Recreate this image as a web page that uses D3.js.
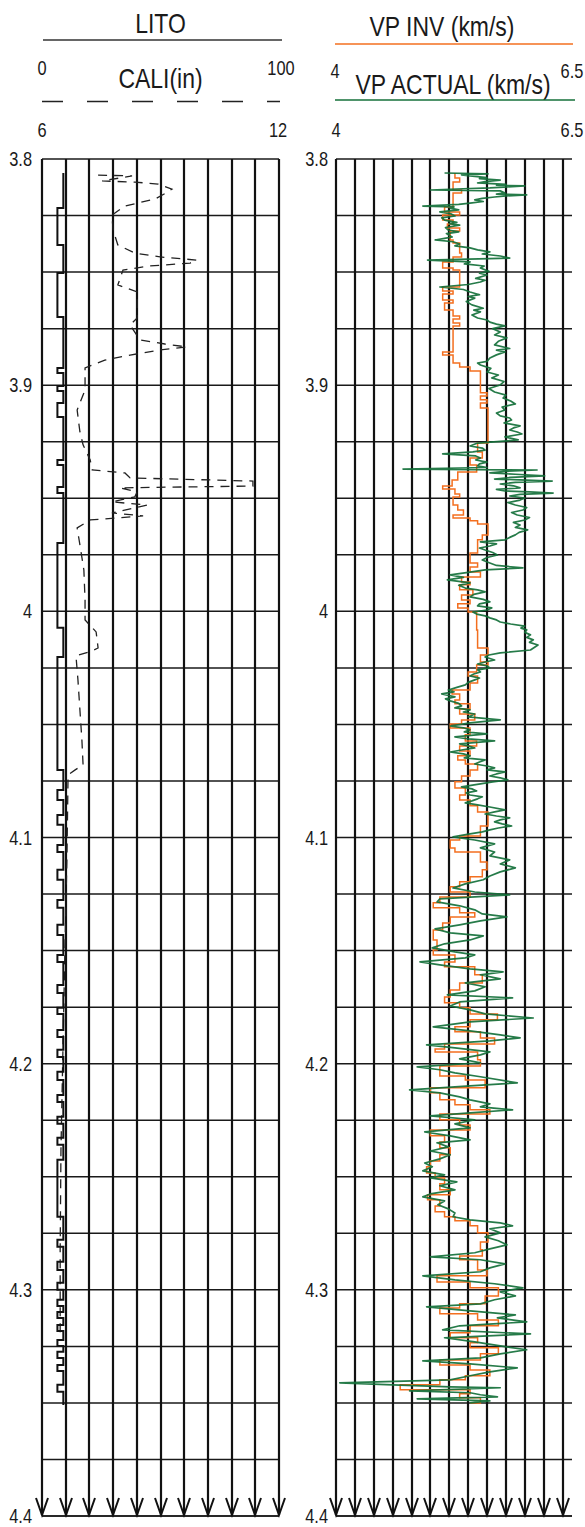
<!DOCTYPE html>
<html>
<head>
<meta charset="utf-8">
<script src="https://cdn.jsdelivr.net/npm/d3@7"></script>
<style>
  body { margin: 0; background: #fff; }
  svg { display: block; }
  text { font-family: "Liberation Sans", Arial, sans-serif; fill: #1a1a1a; }
</style>
</head>
<body>
<svg id="chart" width="585" height="1527"></svg>
<script>
// ---- depth axis ----
const depthDomain = [3.8, 4.4];
const depthLabels = [3.8, 3.9, 4.0, 4.1, 4.2, 4.3, 4.4];

// ---- track scales ----
const litoDomain = [0, 100];
const caliDomain = [6, 12];
const vpDomain = [4, 6.5];
const litoTickLabels = ["0", "100"];
const caliTickLabels = ["6", "12"];
const vpTickLabels = ["4", "6.5"];

// ---- curve names ----
const leftTitles = ["LITO", "CALI(in)"];
const rightTitles = ["VP INV (km/s)", "VP ACTUAL (km/s)"];

// LITO: [bed top depth, value], drawn as a step log
const lito = [
  [3.8062, 9], [3.8217, 6.5], [3.8380, 9], [3.8504, 6.5], [3.8699, 9],
  [3.8924, 6.5], [3.8946, 9], [3.9004, 6.5], [3.9026, 9], [3.9079, 6.5], [3.9141, 9],
  [3.9331, 6.5], [3.9353, 9], [3.9450, 6.5], [3.9477, 9],
  [3.9698, 6.5], [4.0073, 9], [4.0202, 6.5], [4.0701, 9],
  [4.0790, 6.5], [4.0834, 9], [4.0900, 6.5], [4.0944, 9], [4.1033, 6.5], [4.1064, 9],
  [4.1143, 6.5], [4.1187, 9], [4.1276, 6.5], [4.1311, 9], [4.1386, 6.5], [4.1431, 9],
  [4.1519, 6.5], [4.1550, 9], [4.1652, 6.5], [4.1687, 9], [4.1753, 6.5], [4.1780, 9],
  [4.1851, 6.5], [4.1882, 9], [4.1939, 6.5], [4.1970, 9], [4.2036, 6.5], [4.2072, 9],
  [4.2138, 6.5], [4.2169, 9], [4.2235, 6.5], [4.2266, 9], [4.2328, 6.5], [4.2359, 9],
  [4.2425, 6.5], [4.2677, 9], [4.2779, 6.5], [4.2810, 9], [4.2876, 6.5], [4.2912, 9],
  [4.2969, 6.5], [4.3000, 9], [4.3044, 6.5], [4.3071, 9], [4.3098, 6.5], [4.3124, 9],
  [4.3155, 6.5], [4.3182, 9], [4.3222, 6.5], [4.3248, 9], [4.3274, 6.5], [4.3301, 9],
  [4.3332, 6.5], [4.3359, 9], [4.3420, 6.5], [4.3451, 9], [4.3509, 9]
];

// CALI (in): [depth, caliper]
const cali = [
  [3.8071, 7.42], [3.8075, 8.28], [3.8097, 7.52], [3.8102, 8.35], [3.8111, 8.94],
  [3.8133, 9.29], [3.8150, 9.14], [3.8177, 8.86], [3.8208, 8.10], [3.8248, 7.77],
  [3.8314, 7.80], [3.8380, 7.92], [3.8416, 8.35], [3.8433, 8.99], [3.8447, 9.92],
  [3.8460, 9.75], [3.8473, 8.73], [3.8491, 8.05], [3.8557, 7.92], [3.8588, 8.41],
  [3.8703, 8.41], [3.8734, 8.23], [3.8800, 8.48], [3.8818, 9.11], [3.8831, 9.67],
  [3.8844, 8.99], [3.8867, 8.23], [3.8889, 7.59], [3.8924, 7.09], [3.9021, 7.09],
  [3.9110, 6.89], [3.9207, 6.96], [3.9264, 7.04], [3.9331, 7.22], [3.9375, 7.27],
  [3.9388, 8.10], [3.9410, 8.23], [3.9424, 11.34], [3.9446, 11.34], [3.9454, 7.97],
  [3.9472, 8.41], [3.9494, 8.35], [3.9516, 7.77], [3.9530, 8.66], [3.9565, 7.77],
  [3.9578, 8.56], [3.9596, 7.22], [3.9631, 6.89], [3.9706, 6.96], [3.9817, 7.06],
  [3.9950, 7.09], [4.0038, 7.09], [4.0091, 7.37], [4.0162, 7.42], [4.0175, 7.27],
  [4.0197, 6.86], [4.0303, 6.91], [4.0436, 6.96], [4.0569, 7.01], [4.0679, 7.04],
  [4.0701, 6.84], [4.0723, 6.66], [4.1099, 6.63], [4.1497, 6.58], [4.1939, 6.53],
  [4.2381, 6.48], [4.2823, 6.46], [4.3199, 6.46]
];

// VP INV (km/s): [depth, velocity], blocky inversion result
const vpInv = [
  [3.8062, 5.26], [3.8084, 5.31], [3.8102, 5.24], [3.8137, 5.33], [3.8150, 5.24],
  [3.8212, 5.15], [3.8234, 5.31], [3.8248, 5.13], [3.8270, 5.24], [3.8287, 5.18],
  [3.8305, 5.31], [3.8318, 5.21], [3.8358, 5.24], [3.8371, 5.31], [3.8416, 5.33],
  [3.8433, 5.24], [3.8455, 5.13], [3.8482, 5.24], [3.8491, 5.31], [3.8566, 5.13],
  [3.8584, 5.24], [3.8597, 5.13], [3.8623, 5.24], [3.8637, 5.15], [3.8668, 5.24],
  [3.8694, 5.31], [3.8707, 5.24], [3.8725, 5.31], [3.8738, 5.24], [3.8853, 5.13],
  [3.8867, 5.24], [3.8902, 5.31], [3.8920, 5.42], [3.8937, 5.53], [3.9034, 5.60],
  [3.9048, 5.53], [3.9065, 5.60], [3.9079, 5.53], [3.9101, 5.61], [3.9256, 5.50],
  [3.9295, 5.55], [3.9322, 5.42], [3.9353, 5.49], [3.9384, 5.29], [3.9419, 5.23],
  [3.9446, 5.13], [3.9459, 5.26], [3.9481, 5.31], [3.9494, 5.24], [3.9530, 5.29],
  [3.9552, 5.35], [3.9574, 5.24], [3.9587, 5.42], [3.9600, 5.50], [3.9614, 5.61],
  [3.9662, 5.55], [3.9684, 5.50], [3.9742, 5.42], [3.9786, 5.50], [3.9804, 5.42],
  [3.9826, 5.53], [3.9848, 5.33], [3.9870, 5.42], [3.9883, 5.31], [3.9905, 5.45],
  [3.9928, 5.33], [3.9950, 5.42], [3.9967, 5.29], [3.9985, 5.40], [4.0003, 5.49],
  [4.0082, 5.50], [4.0162, 5.61], [4.0193, 5.53], [4.0224, 5.61], [4.0237, 5.49],
  [4.0268, 5.40], [4.0286, 5.50], [4.0317, 5.42], [4.0348, 5.23], [4.0365, 5.31],
  [4.0392, 5.26], [4.0409, 5.42], [4.0432, 5.31], [4.0454, 5.47], [4.0480, 5.33],
  [4.0498, 5.21], [4.0516, 5.42], [4.0546, 5.37], [4.0573, 5.49], [4.0595, 5.31],
  [4.0617, 5.42], [4.0639, 5.29], [4.0657, 5.37], [4.0675, 5.50], [4.0701, 5.42],
  [4.0728, 5.33], [4.0754, 5.26], [4.0781, 5.37], [4.0812, 5.31], [4.0834, 5.42],
  [4.0860, 5.50], [4.0887, 5.61], [4.0949, 5.53], [4.0993, 5.31], [4.1011, 5.21],
  [4.1046, 5.26], [4.1064, 5.53], [4.1108, 5.60], [4.1143, 5.55], [4.1174, 5.42],
  [4.1196, 5.31], [4.1218, 5.21], [4.1241, 5.42], [4.1263, 5.10], [4.1289, 5.03],
  [4.1311, 5.31], [4.1333, 5.47], [4.1351, 5.21], [4.1378, 5.13], [4.1409, 5.03],
  [4.1453, 5.07], [4.1497, 5.03], [4.1519, 5.26], [4.1550, 5.15], [4.1572, 5.47],
  [4.1607, 5.55], [4.1643, 5.31], [4.1674, 5.21], [4.1705, 5.15], [4.1731, 5.31],
  [4.1753, 5.42], [4.1780, 5.71], [4.1806, 5.42], [4.1837, 5.26], [4.1859, 5.53],
  [4.1886, 5.68], [4.1913, 5.15], [4.1935, 5.05], [4.1948, 5.50], [4.1983, 5.53],
  [4.2010, 5.10], [4.2054, 5.37], [4.2072, 5.58], [4.2107, 5.00], [4.2129, 5.10],
  [4.2160, 5.26], [4.2182, 5.42], [4.2204, 5.63], [4.2222, 5.10], [4.2248, 5.31],
  [4.2271, 5.42], [4.2293, 5.00], [4.2319, 5.15], [4.2346, 5.10], [4.2372, 5.21],
  [4.2403, 5.10], [4.2430, 5.00], [4.2456, 4.96], [4.2483, 5.05], [4.2505, 5.15],
  [4.2531, 5.10], [4.2558, 5.21], [4.2580, 4.97], [4.2602, 5.10], [4.2629, 5.05],
  [4.2655, 5.15], [4.2677, 5.26], [4.2695, 5.42], [4.2717, 5.50], [4.2748, 5.61],
  [4.2788, 5.53], [4.2823, 5.55], [4.2850, 5.31], [4.2867, 5.50], [4.2912, 5.60],
  [4.2938, 5.07], [4.2965, 5.42], [4.2991, 5.72], [4.3027, 5.58], [4.3062, 5.31],
  [4.3080, 5.10], [4.3106, 5.50], [4.3133, 5.72], [4.3159, 5.42], [4.3190, 5.21],
  [4.3212, 5.50], [4.3234, 5.42], [4.3256, 5.72], [4.3283, 5.53], [4.3310, 5.10],
  [4.3332, 5.42], [4.3354, 5.63], [4.3380, 5.37], [4.3398, 5.10], [4.3420, 4.68],
  [4.3442, 5.42], [4.3460, 5.31], [4.3477, 5.53], [4.3500, 5.42]
];

// VP ACTUAL (km/s): [depth, velocity], measured log
const vpActual = [
  [3.8062, 5.15], [3.8066, 5.61], [3.8070, 5.33], [3.8075, 5.42], [3.8082, 5.60],
  [3.8087, 5.52], [3.8093, 5.74], [3.8100, 5.58], [3.8106, 5.50], [3.8112, 5.80],
  [3.8116, 5.70], [3.8119, 6.00], [3.8124, 5.78], [3.8128, 5.63], [3.8137, 5.00],
  [3.8141, 5.74], [3.8150, 5.79], [3.8155, 5.70], [3.8159, 6.02], [3.8163, 5.80],
  [3.8168, 5.68], [3.8174, 5.55], [3.8181, 5.47], [3.8188, 5.56], [3.8195, 5.42],
  [3.8201, 5.30], [3.8208, 4.92], [3.8212, 5.25], [3.8217, 5.21], [3.8225, 5.30],
  [3.8234, 5.10], [3.8243, 5.22], [3.8252, 5.26], [3.8260, 5.12], [3.8270, 5.15],
  [3.8280, 5.28], [3.8286, 5.20], [3.8292, 5.31], [3.8303, 5.16], [3.8314, 5.19],
  [3.8322, 5.30], [3.8330, 5.17], [3.8345, 5.23], [3.8351, 5.15], [3.8358, 5.05],
  [3.8366, 5.24], [3.8376, 5.31], [3.8384, 5.26], [3.8393, 5.42], [3.8402, 5.50],
  [3.8411, 5.63], [3.8420, 5.55], [3.8429, 5.74], [3.8438, 5.84], [3.8447, 4.97],
  [3.8455, 5.42], [3.8464, 5.36], [3.8473, 5.57], [3.8482, 5.53], [3.8497, 5.62],
  [3.8505, 5.52], [3.8513, 5.60], [3.8528, 5.48], [3.8536, 5.58], [3.8544, 5.53],
  [3.8555, 5.40], [3.8566, 5.10], [3.8577, 5.35], [3.8588, 5.42], [3.8600, 5.52],
  [3.8608, 5.40], [3.8615, 5.47], [3.8630, 5.38], [3.8645, 5.44], [3.8660, 5.56],
  [3.8668, 5.46], [3.8676, 5.53], [3.8690, 5.44], [3.8703, 5.50], [3.8712, 5.60],
  [3.8721, 5.63], [3.8730, 5.70], [3.8738, 5.79], [3.8750, 5.66], [3.8765, 5.74],
  [3.8778, 5.68], [3.8791, 5.81], [3.8806, 5.72], [3.8822, 5.68], [3.8838, 5.84],
  [3.8845, 5.70], [3.8853, 5.79], [3.8866, 5.70], [3.8880, 5.63], [3.8895, 5.60],
  [3.8902, 5.50], [3.8911, 5.53], [3.8926, 5.64], [3.8942, 5.60], [3.8955, 5.72],
  [3.8968, 5.65], [3.8984, 5.78], [3.8999, 5.74], [3.9015, 5.62], [3.9030, 5.68],
  [3.9044, 5.80], [3.9057, 5.77], [3.9070, 5.85], [3.9083, 5.90], [3.9097, 5.76],
  [3.9110, 5.79], [3.9123, 5.70], [3.9136, 5.74], [3.9145, 5.84], [3.9154, 5.86],
  [3.9167, 5.78], [3.9180, 5.95], [3.9189, 5.88], [3.9198, 5.84], [3.9207, 5.92],
  [3.9216, 5.97], [3.9229, 5.79], [3.9242, 5.93], [3.9256, 5.50], [3.9269, 5.42],
  [3.9278, 5.55], [3.9287, 5.58], [3.9295, 5.45], [3.9304, 5.13], [3.9313, 5.48],
  [3.9322, 5.53], [3.9331, 5.48], [3.9340, 5.60], [3.9348, 5.52], [3.9357, 5.50],
  [3.9364, 5.60], [3.9371, 4.71], [3.9375, 6.13], [3.9381, 5.80], [3.9388, 5.63],
  [3.9394, 5.90], [3.9401, 6.21], [3.9408, 5.85], [3.9415, 5.68], [3.9419, 5.95],
  [3.9424, 6.29], [3.9430, 5.90], [3.9437, 5.74], [3.9445, 5.88], [3.9454, 5.95],
  [3.9461, 5.70], [3.9468, 5.79], [3.9472, 6.05], [3.9477, 6.30], [3.9483, 5.95],
  [3.9490, 5.84], [3.9499, 6.00], [3.9508, 5.95], [3.9519, 5.82], [3.9530, 5.90],
  [3.9541, 6.02], [3.9552, 5.98], [3.9563, 5.86], [3.9574, 5.92], [3.9585, 6.05],
  [3.9596, 6.00], [3.9607, 5.88], [3.9618, 5.95], [3.9629, 5.90], [3.9640, 6.03],
  [3.9651, 5.94], [3.9662, 5.90], [3.9673, 5.84], [3.9684, 5.79], [3.9693, 5.53],
  [3.9702, 5.70], [3.9711, 5.63], [3.9720, 5.52], [3.9729, 5.58], [3.9740, 5.66],
  [3.9751, 5.71], [3.9762, 5.60], [3.9773, 5.55], [3.9786, 5.63], [3.9797, 5.70],
  [3.9808, 5.98], [3.9817, 5.58], [3.9828, 5.40], [3.9839, 5.21], [3.9850, 5.35],
  [3.9861, 5.18], [3.9874, 5.42], [3.9885, 5.30], [3.9897, 5.37], [3.9905, 5.50],
  [3.9914, 5.58], [3.9925, 5.46], [3.9936, 5.42], [3.9947, 5.56], [3.9958, 5.63],
  [3.9967, 5.52], [3.9976, 5.50], [3.9985, 5.65], [3.9994, 5.60], [4.0003, 5.45],
  [4.0012, 5.49], [4.0020, 5.58], [4.0029, 5.63], [4.0038, 5.70], [4.0047, 5.74],
  [4.0056, 5.85], [4.0065, 6.00], [4.0074, 5.96], [4.0082, 6.02], [4.0093, 6.00],
  [4.0104, 6.06], [4.0115, 6.02], [4.0126, 6.09], [4.0137, 6.05], [4.0149, 6.14],
  [4.0160, 6.10], [4.0171, 6.06], [4.0184, 5.74], [4.0193, 5.62], [4.0202, 5.58],
  [4.0215, 5.68], [4.0224, 5.58], [4.0233, 5.50], [4.0241, 5.60], [4.0250, 5.63],
  [4.0259, 5.50], [4.0268, 5.53], [4.0277, 5.46], [4.0286, 5.42], [4.0295, 5.52],
  [4.0303, 5.47], [4.0314, 5.40], [4.0325, 5.37], [4.0336, 5.28], [4.0348, 5.19],
  [4.0356, 5.25], [4.0365, 5.12], [4.0378, 5.26], [4.0387, 5.16], [4.0396, 5.21],
  [4.0407, 5.30], [4.0418, 5.33], [4.0427, 5.26], [4.0436, 5.42], [4.0445, 5.35],
  [4.0454, 5.47], [4.0467, 5.40], [4.0480, 5.74], [4.0493, 5.42], [4.0507, 5.21],
  [4.0515, 5.35], [4.0524, 5.42], [4.0533, 5.36], [4.0542, 5.60], [4.0555, 5.26],
  [4.0564, 5.40], [4.0573, 5.68], [4.0586, 5.31], [4.0595, 5.40], [4.0604, 5.47],
  [4.0613, 5.33], [4.0622, 5.21], [4.0630, 5.35], [4.0639, 5.42], [4.0648, 5.36],
  [4.0657, 5.58], [4.0666, 5.52], [4.0675, 5.47], [4.0684, 5.60], [4.0692, 5.68],
  [4.0701, 5.60], [4.0710, 5.79], [4.0719, 5.70], [4.0728, 5.63], [4.0736, 5.74],
  [4.0745, 5.82], [4.0754, 5.66], [4.0763, 5.53], [4.0776, 5.33], [4.0785, 5.44],
  [4.0794, 5.49], [4.0803, 5.38], [4.0812, 5.42], [4.0820, 5.55], [4.0829, 5.50],
  [4.0838, 5.44], [4.0847, 5.37], [4.0856, 5.50], [4.0865, 5.63], [4.0878, 5.79],
  [4.0887, 5.68], [4.0896, 5.58], [4.0905, 5.70], [4.0913, 5.84], [4.0922, 5.74],
  [4.0931, 5.68], [4.0940, 5.76], [4.0949, 5.86], [4.0958, 5.72], [4.0966, 5.63],
  [4.0975, 5.55], [4.0984, 5.42], [4.0997, 5.24], [4.1011, 5.47], [4.1028, 5.68],
  [4.1046, 5.53], [4.1064, 5.68], [4.1081, 5.63], [4.1099, 5.84], [4.1117, 5.74],
  [4.1134, 5.90], [4.1152, 5.74], [4.1170, 5.63], [4.1187, 5.56], [4.1205, 5.37],
  [4.1223, 5.24], [4.1241, 5.47], [4.1254, 5.84], [4.1271, 5.10], [4.1285, 5.07],
  [4.1302, 5.31], [4.1320, 5.47], [4.1338, 5.55], [4.1351, 5.81], [4.1369, 5.53],
  [4.1386, 5.31], [4.1404, 5.05], [4.1422, 5.21], [4.1435, 5.56], [4.1453, 5.42],
  [4.1470, 5.15], [4.1488, 5.02], [4.1506, 5.26], [4.1519, 5.47], [4.1532, 5.37],
  [4.1550, 4.89], [4.1563, 5.10], [4.1581, 5.42], [4.1594, 5.77], [4.1607, 5.53],
  [4.1625, 5.74], [4.1643, 5.37], [4.1660, 5.58], [4.1678, 5.47], [4.1696, 5.18],
  [4.1709, 5.87], [4.1727, 5.31], [4.1745, 5.21], [4.1762, 5.42], [4.1780, 5.58],
  [4.1798, 6.09], [4.1815, 5.42], [4.1837, 5.03], [4.1855, 5.42], [4.1873, 5.74],
  [4.1886, 5.95], [4.1899, 5.63], [4.1917, 4.96], [4.1930, 5.26], [4.1948, 5.63],
  [4.1961, 5.53], [4.1979, 5.31], [4.1996, 5.53], [4.2014, 4.86], [4.2027, 5.10],
  [4.2041, 5.26], [4.2058, 5.53], [4.2085, 5.92], [4.2098, 5.42], [4.2116, 4.78],
  [4.2129, 5.10], [4.2147, 5.31], [4.2160, 5.42], [4.2178, 5.63], [4.2191, 5.53],
  [4.2204, 5.87], [4.2218, 5.42], [4.2231, 5.00], [4.2248, 5.47], [4.2266, 5.26],
  [4.2284, 5.42], [4.2302, 4.94], [4.2319, 5.21], [4.2337, 5.42], [4.2350, 5.07],
  [4.2368, 5.19], [4.2386, 5.00], [4.2403, 5.21], [4.2421, 5.10], [4.2439, 4.94],
  [4.2456, 5.02], [4.2474, 4.92], [4.2492, 5.15], [4.2505, 5.00], [4.2523, 5.28],
  [4.2540, 5.10], [4.2558, 5.26], [4.2576, 5.00], [4.2589, 4.92], [4.2607, 5.15],
  [4.2624, 5.08], [4.2642, 5.19], [4.2660, 5.26], [4.2677, 5.24], [4.2691, 5.42],
  [4.2704, 5.74], [4.2717, 5.87], [4.2730, 5.63], [4.2748, 5.74], [4.2766, 5.58],
  [4.2783, 5.72], [4.2801, 5.81], [4.2819, 5.63], [4.2836, 5.47], [4.2854, 5.00],
  [4.2867, 5.53], [4.2885, 5.79], [4.2903, 5.63], [4.2920, 5.53], [4.2938, 4.92],
  [4.2956, 5.26], [4.2973, 5.68], [4.2991, 5.98], [4.3009, 5.74], [4.3027, 5.90],
  [4.3044, 5.68], [4.3062, 5.53], [4.3075, 4.96], [4.3093, 5.42], [4.3111, 5.90],
  [4.3124, 5.71], [4.3142, 6.02], [4.3159, 5.31], [4.3177, 5.13], [4.3195, 6.06],
  [4.3212, 5.15], [4.3230, 5.47], [4.3248, 5.74], [4.3265, 6.02], [4.3283, 5.74],
  [4.3301, 5.53], [4.3314, 4.92], [4.3327, 5.42], [4.3345, 5.92], [4.3363, 5.63],
  [4.3380, 5.42], [4.3398, 5.21], [4.3411, 4.04], [4.3420, 4.60], [4.3429, 5.21],
  [4.3433, 5.74], [4.3447, 4.78], [4.3455, 5.42], [4.3464, 5.53], [4.3473, 5.71],
  [4.3482, 4.86], [4.3491, 5.63], [4.3500, 5.42]
];

// ---- layout ----
const svg = d3.select("#chart");
const plotTop = 159, plotBottom = 1516;
const leftTrack = { x0: 42, x1: 279 };
const rightTrack = { x0: 336, x1: 572 };
const colors = { inv: "#f36f1f", actual: "#14703a", ink: "#111" };

const y = d3.scaleLinear().domain(depthDomain).range([plotTop, plotBottom]);
const xLito = d3.scaleLinear().domain(litoDomain).range([leftTrack.x0, leftTrack.x1]);
const xCali = d3.scaleLinear().domain(caliDomain).range([leftTrack.x0, leftTrack.x1]);
const xVp = d3.scaleLinear().domain(vpDomain).range([rightTrack.x0, rightTrack.x1]);

// condensed text helper (narrow sans look)
function label(g, x, yy, str, size, anchor) {
  return g.append("text")
    .attr("transform", `translate(${x},${yy}) scale(0.82,1)`)
    .attr("text-anchor", anchor)
    .style("font-size", size + "px")
    .text(str);
}

function drawTrack(track, xScale, labelGap) {
  const g = svg.append("g");
  const hLines = d3.range(0, 25).map(i => depthDomain[0] + i * 0.025);
  const vTicks = xScale.ticks(10);
  const vx = d => Math.round(xScale(d));

  // horizontal depth grid
  g.selectAll("line.h").data(hLines).join("line")
    .attr("x1", track.x0).attr("x2", track.x1)
    .attr("y1", d => y(d)).attr("y2", d => y(d))
    .attr("stroke", "#1a1a1a").attr("stroke-width", 1.5);

  // bottom baseline
  g.append("line")
    .attr("x1", track.x0).attr("x2", track.x1)
    .attr("y1", y(depthDomain[1])).attr("y2", y(depthDomain[1]))
    .attr("stroke", "#1a1a1a").attr("stroke-width", 1.5);

  // vertical grid with arrow heads
  g.selectAll("line.v").data(vTicks).join("line")
    .attr("x1", vx).attr("x2", vx)
    .attr("y1", plotTop).attr("y2", plotBottom - 1)
    .attr("stroke", colors.ink).attr("stroke-width", 2.2);
  g.selectAll("path.arrow").data(vTicks).join("path")
    .attr("d", d => {
      const x = vx(d), yb = plotBottom - 1;
      return `M${x - 6},${yb - 17} L${x},${yb} L${x + 6},${yb - 17}`;
    })
    .attr("fill", "none").attr("stroke", colors.ink).attr("stroke-width", 2);

  // depth labels
  depthLabels.forEach(d => {
    label(g, track.x0 - labelGap, y(d) + 7, d3.format("~g")(d), 20, "end");
  });
  return g;
}

drawTrack(leftTrack, xLito, 10);
drawTrack(rightTrack, xVp, 8);

// ---- headers ----
const hdr = svg.append("g");
const lMid = (leftTrack.x0 + leftTrack.x1) / 2;
const rMid = (rightTrack.x0 + rightTrack.x1) / 2;

label(hdr, lMid, 33, leftTitles[0], 28, "middle");
hdr.append("line").attr("x1", leftTrack.x0 + 1).attr("x2", leftTrack.x1 + 3)
  .attr("y1", 40).attr("y2", 40).attr("stroke", "#333").attr("stroke-width", 1.5);
label(hdr, xLito(litoDomain[0]), 75, litoTickLabels[0], 20, "middle");
label(hdr, xLito(litoDomain[1]) + 2, 75, litoTickLabels[1], 20, "middle");

label(hdr, lMid, 88, leftTitles[1], 28, "middle");
hdr.append("line").attr("x1", leftTrack.x0).attr("x2", leftTrack.x1 + 1)
  .attr("y1", 101.5).attr("y2", 101.5).attr("stroke", "#222").attr("stroke-width", 1.5)
  .attr("stroke-dasharray", "21,24");
label(hdr, xCali(caliDomain[0]), 137, caliTickLabels[0], 20, "middle");
label(hdr, xCali(caliDomain[1]) - 1, 137, caliTickLabels[1], 20, "middle");

label(hdr, rMid - 12, 36, rightTitles[0], 28, "middle");
hdr.append("line").attr("x1", rightTrack.x0 - 1).attr("x2", rightTrack.x1 + 1)
  .attr("y1", 44).attr("y2", 44).attr("stroke", colors.inv).attr("stroke-width", 1.5);
label(hdr, xVp(vpDomain[0]) - 1, 78, vpTickLabels[0], 20, "middle");
label(hdr, xVp(vpDomain[1]), 78, vpTickLabels[1], 20, "middle");

label(hdr, rMid - 1, 94, rightTitles[1], 28, "middle");
hdr.append("line").attr("x1", rightTrack.x0 - 1).attr("x2", rightTrack.x1 + 3)
  .attr("y1", 100).attr("y2", 100).attr("stroke", colors.actual).attr("stroke-width", 1.5);
label(hdr, xVp(vpDomain[0]), 137, vpTickLabels[0], 20, "middle");
label(hdr, xVp(vpDomain[1]), 137, vpTickLabels[1], 20, "middle");

// ---- curves ----
const curves = svg.append("g");

curves.append("path").datum(cali)
  .attr("d", d3.line().x(d => xCali(d[1])).y(d => y(d[0])))
  .attr("fill", "none").attr("stroke", "#222").attr("stroke-width", 1.3)
  .attr("stroke-dasharray", "9,7");

curves.append("path").datum(lito)
  .attr("d", d3.line().x(d => xLito(d[1])).y(d => y(d[0])).curve(d3.curveStepBefore))
  .attr("fill", "none").attr("stroke", "#111").attr("stroke-width", 2);

curves.append("path").datum(vpInv)
  .attr("d", d3.line().x(d => xVp(d[1])).y(d => y(d[0])).curve(d3.curveStepBefore))
  .attr("fill", "none").attr("stroke", colors.inv).attr("stroke-width", 1.5);

curves.append("path").datum(vpActual)
  .attr("d", d3.line().x(d => xVp(d[1])).y(d => y(d[0])))
  .attr("fill", "none").attr("stroke", colors.actual).attr("stroke-width", 1.7)
  .attr("stroke-opacity", 0.92).attr("stroke-linejoin", "round");
</script>
</body>
</html>
